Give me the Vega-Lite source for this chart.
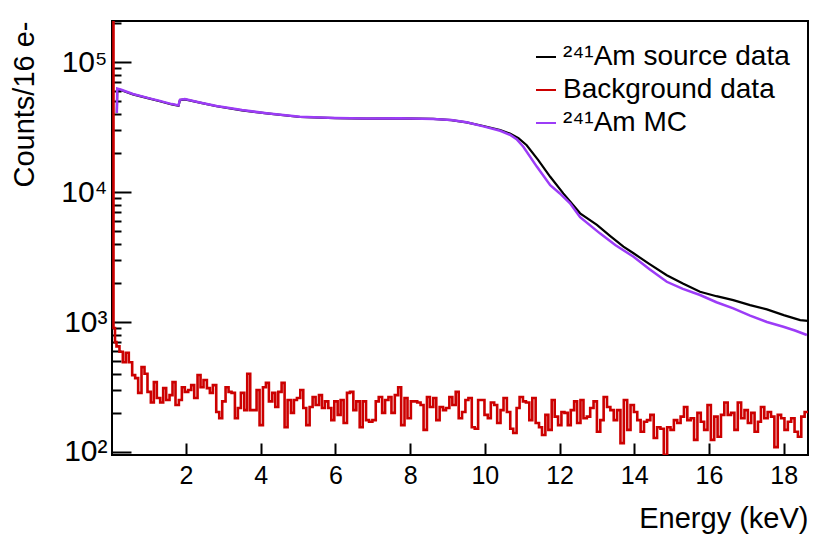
{
  "$schema": "https://vega.github.io/schema/vega-lite/v6.json",
  "width": 696,
  "height": 434,
  "autosize": {"type": "none"},
  "padding": {"left": 112, "top": 21, "right": 23, "bottom": 100},
  "background": "white",
  "config": {
    "font": "Liberation Sans",
    "view": {"stroke": "#000000", "strokeWidth": 2},
    "axis": {
      "grid": false,
      "domain": false,
      "tickColor": "#000000",
      "tickWidth": 2,
      "labelColor": "#000000",
      "titleColor": "#000000",
      "labelFont": "Liberation Sans",
      "titleFont": "Liberation Sans",
      "titleFontWeight": "normal"
    }
  },
  "datasets": {
    "src": [
      {"e": 0.15, "c": 40500}, {"e": 0.16, "c": 62000}, {"e": 0.25, "c": 61000}, {"e": 0.58, "c": 56400},
      {"e": 1.0, "c": 52500}, {"e": 1.3, "c": 50000}, {"e": 1.62, "c": 47200}, {"e": 1.8, "c": 46200},
      {"e": 1.84, "c": 51000}, {"e": 1.97, "c": 51700}, {"e": 2.4, "c": 48500}, {"e": 2.82, "c": 45700},
      {"e": 3.5, "c": 42500}, {"e": 4.16, "c": 40300}, {"e": 5.05, "c": 37800}, {"e": 6.0, "c": 37000},
      {"e": 6.84, "c": 36700}, {"e": 7.73, "c": 36900}, {"e": 8.62, "c": 36500}, {"e": 9.1, "c": 35800},
      {"e": 9.51, "c": 34400}, {"e": 9.96, "c": 32200}, {"e": 10.41, "c": 30000}, {"e": 10.67, "c": 28200},
      {"e": 10.9, "c": 26000}, {"e": 11.12, "c": 22900}, {"e": 11.43, "c": 17600}, {"e": 11.75, "c": 13100},
      {"e": 12.1, "c": 9770}, {"e": 12.55, "c": 6860}, {"e": 13.0, "c": 5580}, {"e": 13.35, "c": 4600},
      {"e": 13.71, "c": 3800}, {"e": 13.98, "c": 3380}, {"e": 14.4, "c": 2800}, {"e": 14.87, "c": 2290},
      {"e": 15.3, "c": 1980}, {"e": 15.76, "c": 1710}, {"e": 16.2, "c": 1580}, {"e": 16.65, "c": 1475},
      {"e": 17.1, "c": 1350}, {"e": 17.55, "c": 1250}, {"e": 18.0, "c": 1130}, {"e": 18.44, "c": 1035},
      {"e": 18.65, "c": 1020}
    ],
    "mc": [
      {"e": 0.15, "c": 40500}, {"e": 0.16, "c": 62500}, {"e": 0.25, "c": 61500}, {"e": 0.58, "c": 56800},
      {"e": 1.0, "c": 52800}, {"e": 1.3, "c": 50300}, {"e": 1.62, "c": 47500}, {"e": 1.8, "c": 46400},
      {"e": 1.84, "c": 51300}, {"e": 1.97, "c": 52000}, {"e": 2.4, "c": 48700}, {"e": 2.82, "c": 45900},
      {"e": 3.5, "c": 42700}, {"e": 4.16, "c": 40400}, {"e": 5.05, "c": 37900}, {"e": 6.0, "c": 37100},
      {"e": 6.84, "c": 36800}, {"e": 7.73, "c": 36900}, {"e": 8.62, "c": 36500}, {"e": 9.1, "c": 35800},
      {"e": 9.51, "c": 34400}, {"e": 9.96, "c": 32000}, {"e": 10.41, "c": 29600}, {"e": 10.67, "c": 27600},
      {"e": 10.85, "c": 25500}, {"e": 11.03, "c": 22300}, {"e": 11.39, "c": 15700}, {"e": 11.75, "c": 11300},
      {"e": 12.0, "c": 9800}, {"e": 12.28, "c": 8200}, {"e": 12.55, "c": 6400}, {"e": 13.08, "c": 4810},
      {"e": 13.5, "c": 3900}, {"e": 13.98, "c": 3180}, {"e": 14.4, "c": 2560}, {"e": 14.87, "c": 2040},
      {"e": 15.3, "c": 1800}, {"e": 15.76, "c": 1614}, {"e": 16.2, "c": 1420}, {"e": 16.65, "c": 1274},
      {"e": 17.1, "c": 1120}, {"e": 17.55, "c": 1000}, {"e": 17.99, "c": 920}, {"e": 18.3, "c": 860},
      {"e": 18.62, "c": 794}
    ],
    "bkg": [
      {"e": 0.0, "c": 3000000}, {"e": 0.06, "c": 900}, {"e": 0.1, "c": 700},
      {"e": 0.14, "c": 650}, {"e": 0.22, "c": 590}, {"e": 0.31, "c": 490}, {"e": 0.39, "c": 580}, {"e": 0.47, "c": 490},
      {"e": 0.56, "c": 390}, {"e": 0.64, "c": 370}, {"e": 0.72, "c": 285}, {"e": 0.81, "c": 450}, {"e": 0.89, "c": 400},
      {"e": 0.97, "c": 290}, {"e": 1.06, "c": 240}, {"e": 1.14, "c": 345}, {"e": 1.22, "c": 260}, {"e": 1.31, "c": 240},
      {"e": 1.39, "c": 310}, {"e": 1.47, "c": 251}, {"e": 1.56, "c": 274}, {"e": 1.64, "c": 345}, {"e": 1.72, "c": 230},
      {"e": 1.81, "c": 251}, {"e": 1.89, "c": 315}, {"e": 1.97, "c": 290}, {"e": 2.06, "c": 300}, {"e": 2.14, "c": 327},
      {"e": 2.22, "c": 260}, {"e": 2.31, "c": 391}, {"e": 2.39, "c": 315}, {"e": 2.47, "c": 358}, {"e": 2.56, "c": 310},
      {"e": 2.64, "c": 285}, {"e": 2.72, "c": 327}, {"e": 2.81, "c": 203}, {"e": 2.89, "c": 182}, {"e": 2.97, "c": 245},
      {"e": 3.06, "c": 315}, {"e": 3.14, "c": 290}, {"e": 3.22, "c": 285}, {"e": 3.31, "c": 182}, {"e": 3.39, "c": 218},
      {"e": 3.47, "c": 285}, {"e": 3.56, "c": 210}, {"e": 3.64, "c": 400}, {"e": 3.72, "c": 210}, {"e": 3.81, "c": 210},
      {"e": 3.89, "c": 300}, {"e": 3.97, "c": 161}, {"e": 4.06, "c": 315}, {"e": 4.14, "c": 340}, {"e": 4.22, "c": 245},
      {"e": 4.31, "c": 285}, {"e": 4.39, "c": 222}, {"e": 4.47, "c": 290}, {"e": 4.56, "c": 340}, {"e": 4.64, "c": 155},
      {"e": 4.72, "c": 251}, {"e": 4.81, "c": 200}, {"e": 4.89, "c": 251}, {"e": 4.97, "c": 260}, {"e": 5.06, "c": 300},
      {"e": 5.14, "c": 218}, {"e": 5.22, "c": 161}, {"e": 5.31, "c": 222}, {"e": 5.39, "c": 265}, {"e": 5.47, "c": 230},
      {"e": 5.56, "c": 274}, {"e": 5.64, "c": 218}, {"e": 5.72, "c": 245}, {"e": 5.81, "c": 218}, {"e": 5.89, "c": 176},
      {"e": 5.97, "c": 245}, {"e": 6.06, "c": 193}, {"e": 6.14, "c": 251}, {"e": 6.22, "c": 167}, {"e": 6.31, "c": 285},
      {"e": 6.39, "c": 290}, {"e": 6.48, "c": 210}, {"e": 6.56, "c": 245}, {"e": 6.65, "c": 155}, {"e": 6.73, "c": 245},
      {"e": 6.82, "c": 176}, {"e": 6.9, "c": 171}, {"e": 6.99, "c": 176}, {"e": 7.08, "c": 245}, {"e": 7.16, "c": 265},
      {"e": 7.25, "c": 200}, {"e": 7.33, "c": 251}, {"e": 7.42, "c": 265}, {"e": 7.5, "c": 200}, {"e": 7.59, "c": 274},
      {"e": 7.68, "c": 315}, {"e": 7.76, "c": 161}, {"e": 7.85, "c": 260}, {"e": 7.93, "c": 182}, {"e": 8.02, "c": 245},
      {"e": 8.1, "c": 245}, {"e": 8.19, "c": 240}, {"e": 8.28, "c": 230}, {"e": 8.36, "c": 148}, {"e": 8.45, "c": 265},
      {"e": 8.53, "c": 222}, {"e": 8.62, "c": 260}, {"e": 8.7, "c": 176}, {"e": 8.79, "c": 222}, {"e": 8.88, "c": 210},
      {"e": 8.96, "c": 218}, {"e": 9.05, "c": 265}, {"e": 9.13, "c": 230}, {"e": 9.22, "c": 290}, {"e": 9.3, "c": 182},
      {"e": 9.39, "c": 203}, {"e": 9.48, "c": 251}, {"e": 9.56, "c": 260}, {"e": 9.65, "c": 155}, {"e": 9.73, "c": 151},
      {"e": 9.82, "c": 251}, {"e": 9.9, "c": 251}, {"e": 9.99, "c": 193}, {"e": 10.08, "c": 182}, {"e": 10.16, "c": 240},
      {"e": 10.25, "c": 230}, {"e": 10.33, "c": 167}, {"e": 10.42, "c": 210}, {"e": 10.5, "c": 260}, {"e": 10.59, "c": 203},
      {"e": 10.68, "c": 151}, {"e": 10.76, "c": 140}, {"e": 10.85, "c": 218}, {"e": 10.93, "c": 265}, {"e": 11.02, "c": 245},
      {"e": 11.1, "c": 240}, {"e": 11.19, "c": 176}, {"e": 11.27, "c": 260}, {"e": 11.36, "c": 167}, {"e": 11.45, "c": 155},
      {"e": 11.53, "c": 135}, {"e": 11.62, "c": 193}, {"e": 11.7, "c": 148}, {"e": 11.79, "c": 251}, {"e": 11.87, "c": 187},
      {"e": 11.96, "c": 161}, {"e": 12.05, "c": 203}, {"e": 12.13, "c": 200}, {"e": 12.22, "c": 161}, {"e": 12.3, "c": 210},
      {"e": 12.39, "c": 245}, {"e": 12.47, "c": 167}, {"e": 12.56, "c": 251}, {"e": 12.64, "c": 182}, {"e": 12.73, "c": 187},
      {"e": 12.82, "c": 218}, {"e": 12.91, "c": 245}, {"e": 13.0, "c": 143}, {"e": 13.09, "c": 176}, {"e": 13.18, "c": 265},
      {"e": 13.27, "c": 222}, {"e": 13.36, "c": 210}, {"e": 13.45, "c": 176}, {"e": 13.54, "c": 210}, {"e": 13.63, "c": 117},
      {"e": 13.72, "c": 251}, {"e": 13.81, "c": 148}, {"e": 13.9, "c": 230}, {"e": 13.99, "c": 203}, {"e": 14.08, "c": 176},
      {"e": 14.17, "c": 143}, {"e": 14.26, "c": 171}, {"e": 14.34, "c": 176}, {"e": 14.43, "c": 193}, {"e": 14.52, "c": 128},
      {"e": 14.61, "c": 155}, {"e": 14.7, "c": 151}, {"e": 14.79, "c": 95}, {"e": 14.88, "c": 155}, {"e": 14.97, "c": 148},
      {"e": 15.06, "c": 176}, {"e": 15.15, "c": 167}, {"e": 15.24, "c": 187}, {"e": 15.33, "c": 222}, {"e": 15.42, "c": 176},
      {"e": 15.51, "c": 182}, {"e": 15.6, "c": 124}, {"e": 15.69, "c": 200}, {"e": 15.78, "c": 171}, {"e": 15.87, "c": 148},
      {"e": 15.96, "c": 230}, {"e": 16.05, "c": 124}, {"e": 16.14, "c": 187}, {"e": 16.23, "c": 131}, {"e": 16.32, "c": 193},
      {"e": 16.41, "c": 240}, {"e": 16.5, "c": 193}, {"e": 16.59, "c": 200}, {"e": 16.68, "c": 148}, {"e": 16.77, "c": 240},
      {"e": 16.86, "c": 182}, {"e": 16.95, "c": 210}, {"e": 17.04, "c": 167}, {"e": 17.13, "c": 200}, {"e": 17.22, "c": 143},
      {"e": 17.31, "c": 171}, {"e": 17.39, "c": 222}, {"e": 17.48, "c": 182}, {"e": 17.57, "c": 203}, {"e": 17.66, "c": 187},
      {"e": 17.75, "c": 109}, {"e": 17.84, "c": 193}, {"e": 17.93, "c": 182}, {"e": 18.02, "c": 148}, {"e": 18.11, "c": 171},
      {"e": 18.2, "c": 182}, {"e": 18.29, "c": 143}, {"e": 18.38, "c": 131}, {"e": 18.47, "c": 187}, {"e": 18.56, "c": 203},
      {"e": 18.65, "c": 203}
    ]
  },
  "layer": [
    {
      "data": {"name": "src"},
      "mark": {"type": "line", "strokeWidth": 2.2, "clip": true, "strokeJoin": "miter"},
      "encoding": {
        "x": {
          "field": "e",
          "type": "quantitative",
          "scale": {"domain": [0.02, 18.65], "nice": false, "zero": false},
          "axis": {
            "title": "Energy (keV)",
            "values": [2, 4, 6, 8, 10, 12, 14, 16, 18],
            "tickSize": -12,
            "labelPadding": 20,
            "labelFontSize": 25,
            "labelFlush": false,
            "titleFontSize": 29,
            "titleX": 696,
            "titleY": 72,
            "titleAlign": "right",
            "titleBaseline": "alphabetic"
          }
        },
        "y": {
          "field": "c",
          "type": "quantitative",
          "scale": {"type": "log", "domain": [94.8, 207000], "nice": false},
          "axis": {
            "title": "Counts/16 e-",
            "values": [100, 200, 300, 400, 500, 600, 700, 800, 900, 1000, 2000, 3000, 4000, 5000, 6000, 7000, 8000, 9000, 10000, 20000, 30000, 40000, 50000, 60000, 70000, 80000, 90000, 100000, 200000],
            "labelExpr": "datum.value == 100 ? '10²' : datum.value == 1000 ? '10³' : datum.value == 10000 ? '10⁴' : datum.value == 100000 ? '10⁵' : ''",
            "tickSize": {"condition": {"test": "datum.value == 100 || datum.value == 1000 || datum.value == 10000 || datum.value == 100000", "value": -19}, "value": -9},
            "labelPadding": 24,
            "labelFontSize": 30,
            "labelFlush": false,
            "titleFontSize": 29,
            "titleX": -79,
            "titleY": 0,
            "titleAlign": "right",
            "titleBaseline": "alphabetic"
          }
        },
        "color": {
          "datum": "²⁴¹Am source data",
          "type": "nominal",
          "scale": {
            "domain": ["²⁴¹Am source data", "Background data", "²⁴¹Am MC"],
            "range": ["#000000", "#cc0000", "#9c3cf7"]
          },
          "legend": {
            "title": null,
            "orient": "none",
            "legendX": 420,
            "legendY": 22,
            "padding": 0,
            "symbolType": "stroke",
            "symbolSize": 400,
            "symbolStrokeWidth": 2,
            "labelFontSize": 28,
            "labelFont": "Liberation Sans",
            "labelColor": "#000000",
            "labelOffset": 3,
            "labelLimit": 400,
            "rowPadding": 5
          }
        }
      }
    },
    {
      "data": {"name": "bkg"},
      "mark": {"type": "line", "interpolate": "step-after", "strokeWidth": 2.6, "clip": true},
      "encoding": {
        "x": {"field": "e", "type": "quantitative"},
        "y": {"field": "c", "type": "quantitative"},
        "color": {"datum": "Background data", "type": "nominal"}
      }
    },
    {
      "data": {"name": "mc"},
      "mark": {"type": "line", "strokeWidth": 2.5, "clip": true, "strokeJoin": "miter"},
      "encoding": {
        "x": {"field": "e", "type": "quantitative"},
        "y": {"field": "c", "type": "quantitative"},
        "color": {"datum": "²⁴¹Am MC", "type": "nominal"}
      }
    }
  ]
}
